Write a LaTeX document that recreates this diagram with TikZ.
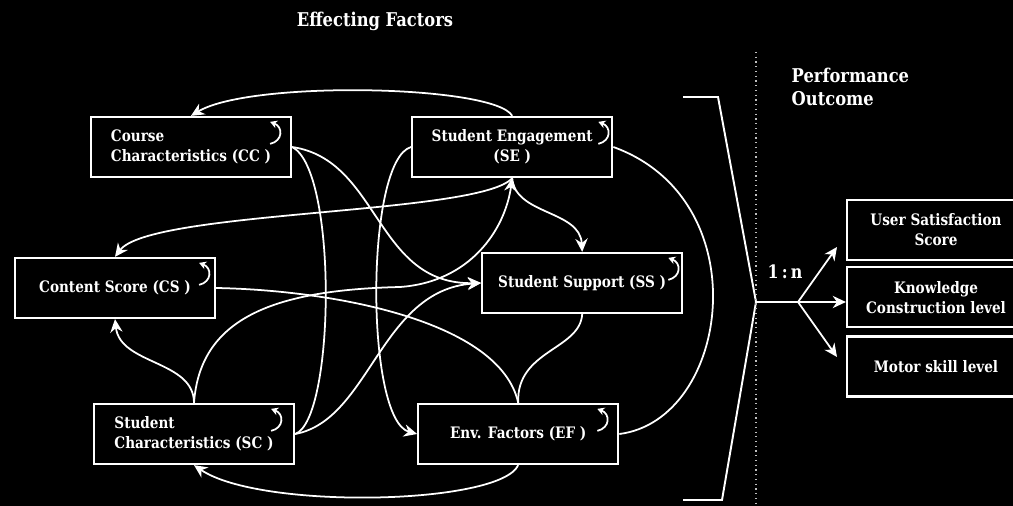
\documentclass[tikz,border=0pt]{standalone}
\usepackage{fontspec}
\setmainfont{DejaVu Serif}[FakeStretch=0.86]
\usetikzlibrary{positioning,calc,arrows.meta}

\begin{document}
\begin{tikzpicture}[x=0.02cm,y=-0.02cm,->,>={Stealth[length=7.5pt,width=7pt]},
                    white,line width=1pt,font=\bfseries\fontsize{9}{11.3}\selectfont,
                    box/.style={shape=rectangle,draw=white,line width=1.3pt,minimum width=4cm,
                                minimum height=1.2cm,text=white,align=center,inner sep=2pt},
                    outbox/.style={box,minimum width=3.56cm},
                    loopmark/.style={-{Stealth[length=4pt,width=4.5pt]},line width=1pt}]

  \fill[black,-] (0,0) rectangle (1013,506);
  \useasboundingbox (0,0) rectangle (1013,506);

  % factor boxes
  \node[box,align=left] (CC) at (191,147) {Course\\Characteristics (CC )};
  \node[box] (SE) [right=2.38cm of CC] {Student Engagement\\(SE )};
  \node[box] (CS) at (115,288) {Content Score (CS )};
  \node[box] (SS) [right=5.3cm of CS,yshift=0.1cm] {Student Support (SS )};
  \node[box,align=left] (SC) at (194,434) {Student\\Characteristics (SC )};
  \node[box] (EF) [right=2.44cm of SC] {Env. Factors (EF )};

  % outcome boxes
  \node[outbox] (USS) at (936,230) {User Satisfaction\\Score};
  \node[outbox] (KC) [below=0.1cm of USS] {Knowledge\\Construction level};
  \node[outbox] (MS) [below=0.14cm of KC] {Motor skill level};

  \node[font=\bfseries\fontsize{10.8}{13}\selectfont] (T) at (375,21) {Effecting Factors};
  \node[anchor=west,align=left,font=\bfseries\fontsize{10.8}{13}\selectfont] (PO) at (785,87) {Performance\\Outcome};
  \node[font=\bfseries\fontsize{10.5}{12}\selectfont] (R) at (785,272) {1\,:\,n};

  \foreach \n/\dx in {CC/-22,SE/-15,CS/-17,SS/-15,SC/-24,EF/-22}
    \draw[loopmark] ($(\n.north east)+(\dx,28)$) .. controls +(13,-3) and +(13,5) .. ($(\n.north east)+(\dx,6)$);

  % connectors
  \draw (SE.north) .. controls (495,85) and (250,80) .. (CC.north);
  \draw (CC.east) .. controls (380,160) and (375,285) .. (SS.west);
  \draw[-] (CC.east) .. controls (338,170) and (335,420) .. (SC.east);
  \draw (SE.west) .. controls (365,160) and (365,420) .. (EF.west);
  \draw (SE.south) .. controls (480,215) and (150,210) .. (CS.north);
  \draw (SE.south) .. controls (515,215) and (580,210) .. (SS.north);
  \draw (SC.north) .. controls (200,320) and (270,290) .. (400,287) .. controls (470,282) and (505,230) .. (SE.south);
  \draw (SC.east) .. controls (370,420) and (380,290) .. (SS.west);
  \draw (SC.north) .. controls (194,360) and (120,365) .. (CS.south);
  \draw[-] (CS.east) .. controls (330,290) and (500,320) .. (EF.north);
  \draw[-] (SS.south) .. controls (580,350) and (516,350) .. (EF.north);
  \draw[-] (SE.east) .. controls (760,200) and (730,420) .. (EF.east);
  \draw (EF.south) .. controls (500,505) and (260,510) .. (SC.south);

  % bracket and split
  \coordinate (apex) at (756,302);
  \coordinate (fork) at (798,302);
  \coordinate (up) at (837,247);
  \coordinate (down) at (837,357);
  \draw[-,line width=1.1pt] (683,97) -- (718,97) -- (apex) -- (722,500) -- (683,500);
  \draw[-,dotted,line width=0.7pt,white!75!black] (756,52) -- (756,506);
  \draw[-] (apex) -- (fork);
  \draw (fork) -- (up);
  \draw (fork) -- (fork -| KC.west);
  \draw (fork) -- (down);
\end{tikzpicture}
\end{document}
